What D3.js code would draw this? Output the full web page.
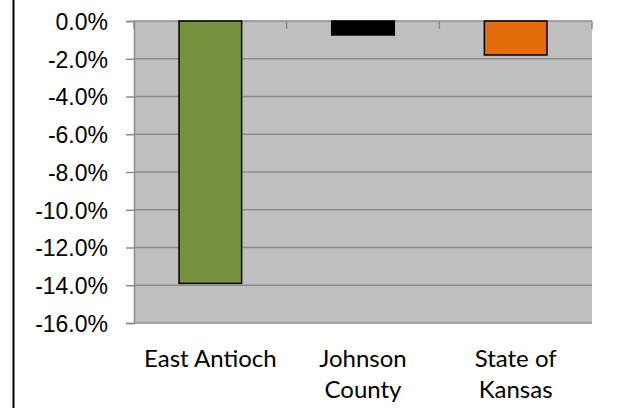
<!DOCTYPE html>
<html>
<head>
<script src="https://d3js.org/d3.v7.min.js"></script>
<style>
  * { margin: 0; padding: 0; }
  body { background: #fff; overflow: hidden; }
  svg { display: block; font-family: 'Lato', sans-serif; }
</style>
</head>
<body>
<script>
const categories = ['East Antioch', 'Johnson County', 'State of Kansas'];
const labelLines = [['East Antioch'], ['Johnson', 'County'], ['State of', 'Kansas']];
const values = [-0.139, -0.0074, -0.018];
const colors = ['#76923c', '#000000', '#e46c0a'];
const yTicks = [0, -0.02, -0.04, -0.06, -0.08, -0.10, -0.12, -0.14, -0.16];

const width = 626, height = 408;
const margin = { top: 21, right: 34, bottom: 85, left: 134 };

const svg = d3.select('body').append('svg').attr('width', width).attr('height', height);

// outer chart border (only left edge visible)
svg.append('line').attr('x1', 13.5).attr('x2', 13.5).attr('y1', 0).attr('y2', height)
    .attr('stroke', '#000').attr('stroke-width', 2);

const x = d3.scaleBand().domain(categories).range([margin.left, width - margin.right]).paddingInner(0.59).paddingOuter(0.295);
const y = d3.scaleLinear().domain([-0.16, 0]).range([height - margin.bottom, margin.top]);

svg.append('rect')
    .attr('x', margin.left).attr('y', margin.top)
    .attr('width', width - margin.right - margin.left)
    .attr('height', height - margin.bottom - margin.top)
    .attr('fill', '#bfbfbf');

const fmt = d => d3.format('.1%')(d).replace('−', '-');
const yAxis = d3.axisLeft(y).tickValues(yTicks).tickFormat(fmt).tickSize(8).tickPadding(18);
const gy = svg.append('g').attr('transform', `translate(${margin.left},0)`).call(yAxis);
gy.select('.domain').attr('stroke', '#8c8c8c').attr('stroke-width', 1.5);
gy.selectAll('.tick line').attr('stroke', '#8c8c8c').attr('stroke-width', 1.5);
gy.selectAll('.tick text').attr('fill', '#000').attr('dy', '0.36em').style('font-size', '23px');

// gridlines
svg.append('g').selectAll('line').data(yTicks).join('line')
    .attr('x1', margin.left).attr('x2', width - margin.right)
    .attr('y1', d => y(d)).attr('y2', d => y(d))
    .attr('stroke', '#8c8c8c').attr('stroke-width', 1.5);

// category ticks along the zero line
const catEdges = d3.range(categories.length + 1).map(i => margin.left + i * (width - margin.right - margin.left) / categories.length);
svg.append('g').selectAll('line').data(catEdges).join('line')
    .attr('x1', d => d).attr('x2', d => d)
    .attr('y1', y(0)).attr('y2', y(0) + 8)
    .attr('stroke', '#8c8c8c').attr('stroke-width', 1.5);

svg.append('g').selectAll('rect').data(categories).join('rect')
    .attr('x', d => x(d))
    .attr('width', x.bandwidth())
    .attr('y', y(0))
    .attr('height', (d, i) => y(values[i]) - y(0))
    .attr('fill', (d, i) => colors[i])
    .attr('stroke', '#000')
    .attr('stroke-width', 1.5);

// category labels
const lab = svg.append('g').selectAll('text').data(categories).join('text')
    .attr('x', d => x(d) + x.bandwidth() / 2)
    .attr('y', 367)
    .attr('text-anchor', 'middle')
    .style('font-size', '24px')
    .attr('fill', '#000');
lab.each(function (d, i) {
    d3.select(this).selectAll('tspan').data(labelLines[i]).join('tspan')
        .attr('x', x(d) + x.bandwidth() / 2)
        .attr('dy', (t, j) => j === 0 ? 0 : 31)
        .text(t => t);
});
</script>
</body>
</html>
